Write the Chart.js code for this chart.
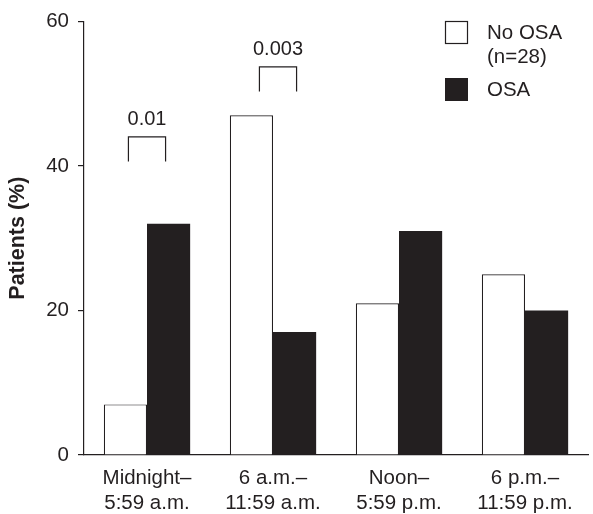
<!DOCTYPE html>
<html>
<head>
<meta charset="utf-8">
<script src="https://cdn.jsdelivr.net/npm/chart.js@4.4.1/dist/chart.umd.min.js"></script>
<style>html,body{margin:0;padding:0;background:#fff}</style>
</head>
<body>
<canvas id="chart" width="593" height="514"></canvas>
<script>
const categories = [["Midnight–", "5:59 a.m."], ["6 a.m.–", "11:59 a.m."], ["Noon–", "5:59 p.m."], ["6 p.m.–", "11:59 p.m."]];
const noOsa = [7, 47, 21, 25];
const osa = [32, 17, 31, 20];
const seriesNames = [["No OSA", "(n=28)"], ["OSA"]];
const yTicks = [0, 20, 40, 60];

// significance brackets: category, leg bottom, bracket top, label
const pCategory = [0, 1];
const pLow = [40.6, 50.3];
const pHigh = [44, 53.7];
const pLabels = ["0.01", "0.003"];

const ink = "#231f20";
const fontFamily = "'Liberation Sans', Arial, Helvetica, sans-serif";
Chart.defaults.font.family = fontFamily;
Chart.defaults.color = ink;

const brackets = {
  id: "brackets",
  afterDatasetsDraw(chart) {
    const ctx = chart.ctx;
    const y = chart.scales.y;
    const m0 = chart.getDatasetMeta(0), m1 = chart.getDatasetMeta(1);
    ctx.save();
    ctx.strokeStyle = ink;
    ctx.lineWidth = 1.2;
    ctx.fillStyle = ink;
    ctx.font = "20px " + fontFamily;
    ctx.textAlign = "center";
    ctx.textBaseline = "middle";
    pCategory.forEach((c, i) => {
      const xa = m0.data[c].x + 3 + 5 * c, xb = m1.data[c].x - 3 + 5 * c;
      const yt = y.getPixelForValue(pHigh[i]), yb = y.getPixelForValue(pLow[i]);
      ctx.beginPath();
      ctx.moveTo(xa, yb); ctx.lineTo(xa, yt); ctx.lineTo(xb, yt); ctx.lineTo(xb, yb);
      ctx.stroke();
      ctx.fillText(pLabels[i], (xa + xb) / 2, yt - 17);
    });
    ctx.restore();
  }
};

const legendBoxes = {
  id: "legendBoxes",
  afterDraw(chart) {
    const ctx = chart.ctx;
    ctx.save();
    ctx.font = "20.5px " + fontFamily;
    ctx.textBaseline = "middle";
    ctx.textAlign = "left";
    // No OSA
    ctx.fillStyle = "#fff";
    ctx.strokeStyle = ink;
    ctx.lineWidth = 1.2;
    ctx.fillRect(445.5, 21.5, 22, 22);
    ctx.strokeRect(445.5, 21.5, 22, 22);
    ctx.fillStyle = ink;
    ctx.fillText(seriesNames[0][0], 487, 33);
    ctx.fillText(seriesNames[0][1], 487, 57);
    // OSA
    ctx.fillRect(445, 78, 23, 23);
    ctx.fillText(seriesNames[1][0], 487, 90);
    ctx.restore();
  }
};

new Chart(document.getElementById("chart"), {
  type: "bar",
  data: {
    labels: categories,
    datasets: [
      {
        label: seriesNames[0].join(" "),
        data: noOsa,
        backgroundColor: "#ffffff",
        borderColor: ink,
        borderWidth: 1.2,
        barPercentage: 1,
        categoryPercentage: 0.685
      },
      {
        label: seriesNames[1].join(" "),
        data: osa,
        backgroundColor: ink,
        borderColor: ink,
        borderWidth: 0,
        barPercentage: 1,
        categoryPercentage: 0.685
      }
    ]
  },
  options: {
    responsive: false,
    animation: false,
    layout: { padding: { top: 15, right: 5, left: 0, bottom: 0 } },
    plugins: {
      legend: { display: false },
      tooltip: { enabled: false }
    },
    scales: {
      x: {
        grid: { display: false },
        border: { display: true, color: ink, width: 1.2 },
        ticks: { font: { size: 20.5, lineHeight: 1.22 }, padding: 3, maxRotation: 0, color: ink },
        afterFit(scale) { scale.height = 59; }
      },
      y: {
        min: 0,
        max: 60,
        afterBuildTicks(scale) { scale.ticks = yTicks.map(v => ({ value: v })); },
        grid: { drawOnChartArea: false, drawTicks: true, tickLength: 6, color: ink, lineWidth: 1.2 },
        border: { display: true, color: ink, width: 1.2 },
        ticks: { font: { size: 20.5 }, padding: 9, color: ink },
        title: {
          display: true,
          text: "Patients (%)",
          font: { size: 21.5, weight: "bold" },
          color: ink,
          padding: { top: 5, bottom: 0 }
        },
        afterFit(scale) { scale.width = 84; }
      }
    }
  },
  plugins: [brackets, legendBoxes]
});
</script>
</body>
</html>
